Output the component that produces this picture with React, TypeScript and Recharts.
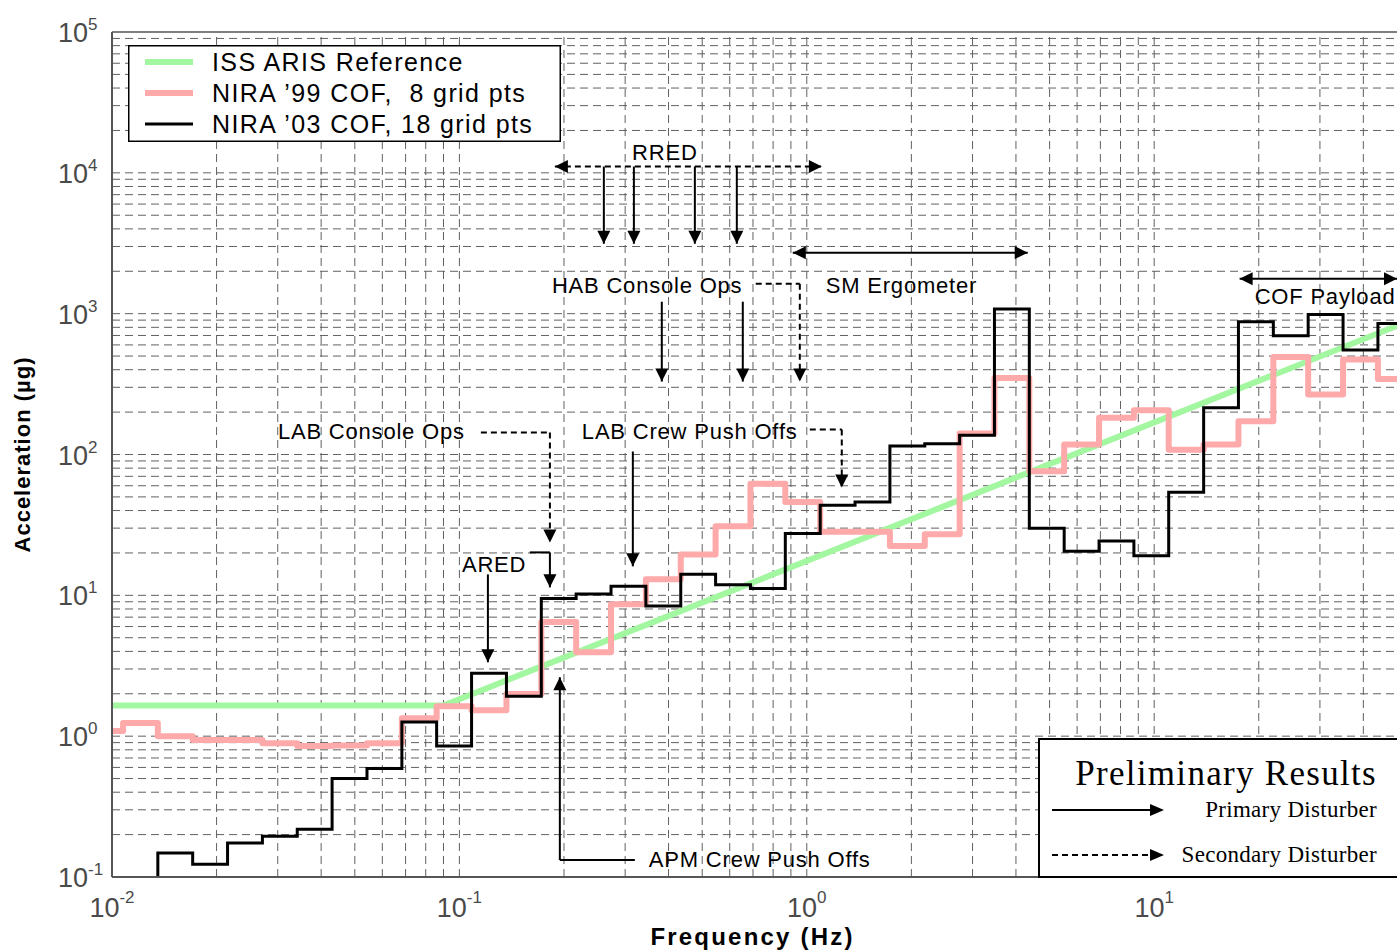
import React from 'react';
import { ComposedChart, Line, XAxis, YAxis, ReferenceLine, ReferenceDot, Legend, Label } from 'recharts';

// 1/3-octave band lower edges (Hz); first entry is the left end of the axis
const bandEdgesHz = [
  0.01, 0.01076, 0.01355, 0.01707, 0.02151, 0.0271, 0.03414, 0.04301, 0.0542, 0.0683,
  0.086, 0.1084, 0.1366, 0.1721, 0.2168, 0.2732, 0.3442, 0.4337, 0.5464, 0.6884,
  0.8673, 1.093, 1.377, 1.735, 2.186, 2.754, 3.469, 4.371, 5.507, 6.939,
  8.742, 11.01, 13.88, 17.48, 22.03, 27.75, 34.97, 44.06,
];
const fMax = 50;
const aMin = 0.1;

// NIRA '99 COF, 8 grid pts (µg), one value per band in bandEdgesHz
const nira99 = [
  1.09, 1.24, 1.0, 0.94, 0.94, 0.89, 0.85, 0.86, 0.89, 1.34,
  1.63, 1.53, 1.99, 6.47, 3.94, 8.63, 13.0, 19.5, 31, 62,
  46, 28.3, 28.3, 22.4, 27.1, 141, 350, 76, 118, 182,
  206, 108, 118, 172, 493, 267, 472, 344,
];

// NIRA '03 COF, 18 grid pts (µg), starts at the third edge
const nira03 = [
  0.148, 0.123, 0.174, 0.195, 0.218, 0.5, 0.59, 1.26, 0.85, 2.8,
  1.92, 9.5, 10.2, 11.6, 8.4, 14.1, 11.9, 11.2, 27.5, 43.7,
  46, 115, 119, 137, 1080, 30, 20.6, 24.3, 19.1, 54,
  215, 877, 697, 988, 551, 853,
];

// ISS ARIS reference (µg)
const arisHz = [0.01, 0.09, 50];
const arisVals = [1.65, 1.65, 820];

const xTicks = [0.01, 0.1, 1, 10];
const yTicks = [0.1, 1, 10, 100, 1000, 10000, 100000];

const xGrid: number[] = [];
[0.01, 0.1, 1, 10].forEach((d) => {
  for (let m = 1; m <= 9; m++) if (d * m < fMax && d * m > 0.01) xGrid.push(d * m);
});
const yGrid: number[] = [];
[0.1, 1, 10, 100, 1000, 10000].forEach((d) => {
  for (let m = 1; m <= 9; m++) if (d * m > 0.1) yGrid.push(d * m);
});

const arisData = arisHz.map((f, i) => ({ f, v: arisVals[i] }));
const data99 = bandEdgesHz
  .map((f, i) => ({ f, v: nira99[i] }))
  .concat([{ f: fMax, v: nira99[nira99.length - 1] }]);
const edges03 = bandEdgesHz.slice(2);
const data03 = [{ f: edges03[0], v: aMin }]
  .concat(edges03.map((f, i) => ({ f, v: nira03[i] })))
  .concat([{ f: fMax, v: nira03[nira03.length - 1] }]);

// annotation texts, in data coordinates (Hz, µg)
const notes = [
  { text: 'RRED', f: 0.3904, a: 14090, anchor: 'middle' },
  { text: 'HAB Console Ops', f: 0.1846, a: 1580, anchor: 'start' },
  { text: 'SM Ergometer', f: 1.134, a: 1580, anchor: 'start' },
  { text: 'COF Payload', f: 19.46, a: 1320, anchor: 'start' },
  { text: 'LAB Console Ops', f: 0.03004, a: 145.6, anchor: 'start' },
  { text: 'LAB Crew Push Offs', f: 0.2252, a: 145.6, anchor: 'start' },
  { text: 'ARED', f: 0.1017, a: 16.6, anchor: 'start' },
  { text: 'APM Crew Push Offs', f: 0.351, a: 0.134, anchor: 'start' },
];

// arrows: [f1, a1, f2, a2], head: 0 none, 1 end, 2 both
const arrows = [
  { p: [0.1883, 11090, 1.105, 11090], head: 2, dashed: true },
  { p: [0.2605, 11090, 0.2605, 3137], head: 1, dashed: false },
  { p: [0.3179, 11090, 0.3179, 3137], head: 1, dashed: false },
  { p: [0.4762, 11090, 0.4762, 3137], head: 1, dashed: false },
  { p: [0.6289, 11090, 0.6289, 3137], head: 1, dashed: false },
  { p: [0.9114, 2708, 4.325, 2708], head: 2, dashed: false },
  { p: [17.62, 1771, 50, 1771], head: 2, dashed: false },
  { p: [0.3825, 1216, 0.3825, 329.4], head: 1, dashed: false },
  { p: [0.6543, 1216, 0.6543, 329.4], head: 1, dashed: false },
  { p: [0.7129, 1633, 0.9548, 1633], head: 0, dashed: true },
  { p: [0.9548, 1633, 0.9548, 329.4], head: 1, dashed: true },
  { p: [0.1153, 143.2, 0.1822, 143.2], head: 0, dashed: true },
  { p: [0.1822, 143.2, 0.1822, 23.76], head: 1, dashed: true },
  { p: [1.02, 150.4, 1.261, 150.4], head: 0, dashed: true },
  { p: [1.261, 150.4, 1.261, 58.3], head: 1, dashed: true },
  { p: [0.3157, 105, 0.3157, 16.06], head: 1, dashed: false },
  { p: [0.1208, 14.09, 0.1208, 3.348], head: 1, dashed: false },
  { p: [0.1595, 20.18, 0.1822, 20.18], head: 0, dashed: false },
  { p: [0.1822, 20.18, 0.1822, 11.39], head: 1, dashed: false },
  { p: [0.3199, 0.132, 0.1946, 0.132], head: 0, dashed: false },
  { p: [0.1946, 0.132, 0.1946, 2.621], head: 1, dashed: false },
];

const sans = "'Liberation Sans', Arial, Helvetica, sans-serif";
const serif = "'Liberation Serif', 'Times New Roman', serif";
const tickColor = '#4a4a4a';
const gridColor = '#606060';

const head = (x: number, y: number, dx: number, dy: number) => {
  const len = Math.hypot(dx, dy) || 1;
  const ux = dx / len;
  const uy = dy / len;
  const L = 13;
  const W = 6.5;
  const bx = x - ux * L;
  const by = y - uy * L;
  return `${x},${y} ${bx - uy * W},${by + ux * W} ${bx + uy * W},${by - ux * W}`;
};

const Arrow = (props: any) => {
  const { x1, y1, x2, y2, headMode, dashed } = props;
  return (
    <g>
      <line x1={x1} y1={y1} x2={x2} y2={y2} stroke="#000" strokeWidth={2} strokeDasharray={dashed ? '6 4' : undefined} />
      {headMode >= 1 && <polygon points={head(x2, y2, x2 - x1, y2 - y1)} fill="#000" />}
      {headMode === 2 && <polygon points={head(x1, y1, x1 - x2, y1 - y2)} fill="#000" />}
    </g>
  );
};

const XTick = (props: any) => {
  const { x, y, payload } = props;
  const e = Math.round(Math.log10(payload.value));
  return (
    <text x={x} y={y + 40} textAnchor="middle" fill={tickColor} fontFamily={sans} fontSize={27}>
      10<tspan dy={-14} fontSize={17}>{e}</tspan>
    </text>
  );
};

const YTick = (props: any) => {
  const { x, y, payload } = props;
  const e = Math.round(Math.log10(payload.value));
  return (
    <text x={x - 54} y={y + 10} textAnchor="start" fill={tickColor} fontFamily={sans} fontSize={27}>
      10<tspan dy={-12} fontSize={17}>{e}</tspan>
    </text>
  );
};

const legendRows = [
  { name: 'ISS ARIS Reference', color: '#a3f7a0', w: 6 },
  { name: 'NIRA \u201999 COF,  8 grid pts', color: '#ffaaaa', w: 6 },
  { name: 'NIRA \u201903 COF, 18 grid pts', color: '#000000', w: 3 },
];

const renderLegend = () => (
  <svg width={433} height={97} style={{ display: 'block' }}>
    <rect x={0.75} y={0.75} width={431.5} height={95.5} fill="#fff" stroke="#000" strokeWidth={1.5} />
    {legendRows.map((r, i) => (
      <g key={r.name}>
        <line x1={17} x2={65} y1={17 + i * 31} y2={17 + i * 31} stroke={r.color} strokeWidth={r.w} />
        <text x={84} y={26 + i * 31} fontFamily={sans} fontSize={25} letterSpacing={1.4} fill="#000" style={{ whiteSpace: 'pre' }}>
          {r.name}
        </text>
      </g>
    ))}
  </svg>
);

export default function App() {
  return (
    <div style={{ position: 'absolute', left: 0, top: 0, width: 1397, height: 951, overflow: 'hidden', background: '#fff' }}>
      <ComposedChart width={1397} height={951} margin={{ top: 32, right: 0, left: 0, bottom: 0 }}>
        <XAxis
          dataKey="f"
          type="number"
          scale="log"
          domain={[0.01, fMax]}
          allowDataOverflow
          ticks={xTicks}
          interval={0}
          tick={<XTick />}
          tickLine={false}
          tickSize={0}
          tickMargin={0}
          height={74}
          axisLine={{ stroke: '#555', strokeWidth: 2 }}
        >
          <Label
            content={(p: any) => {
              const vb = p.viewBox;
              return (
                <text x={vb.x + vb.width / 2 - 2} y={vb.y + 68} textAnchor="middle" fontFamily={sans} fontWeight="bold" fontSize={24} letterSpacing={2.2} fill="#000">
                  Frequency (Hz)
                </text>
              );
            }}
          />
        </XAxis>
        <YAxis
          dataKey="v"
          type="number"
          scale="log"
          domain={[aMin, 100000]}
          allowDataOverflow
          ticks={yTicks}
          interval={0}
          tick={<YTick />}
          tickLine={false}
          tickSize={0}
          tickMargin={0}
          width={112}
          axisLine={{ stroke: '#555', strokeWidth: 2 }}
        >
          <Label
            content={(p: any) => {
              const vb = p.viewBox;
              const cx = vb.x + 22;
              const cy = vb.y + vb.height / 2;
              return (
                <text x={cx} y={cy} transform={`rotate(-90, ${cx}, ${cy})`} dy="0.35em" textAnchor="middle" fontFamily={sans} fontWeight="bold" fontSize={22} letterSpacing={1} fill="#000">
                  Acceleration (µg)
                </text>
              );
            }}
          />
        </YAxis>

        {xGrid.map((v) => (
          <ReferenceLine key={'gx' + v} x={v} stroke={gridColor} strokeWidth={1} strokeDasharray="8 5" />
        ))}
        {yGrid.map((v) => (
          <ReferenceLine key={'gy' + v} y={v} stroke={gridColor} strokeWidth={1} strokeDasharray="8 5" />
        ))}
        <ReferenceLine y={100000} stroke="#555" strokeWidth={1.5} />

        <Line data={arisData} dataKey="v" type="linear" stroke="#a3f7a0" strokeWidth={6} dot={false} isAnimationActive={false} />
        <Line data={data99} dataKey="v" type="stepAfter" stroke="#ffaaaa" strokeWidth={6} strokeLinejoin="round" dot={false} isAnimationActive={false} />
        <Line data={data03} dataKey="v" type="stepAfter" stroke="#000" strokeWidth={3} dot={false} isAnimationActive={false} />

        {arrows.map((ar, i) => (
          <ReferenceLine
            key={'ar' + i}
            segment={[{ x: ar.p[0], y: ar.p[1] }, { x: ar.p[2], y: ar.p[3] }]}
            ifOverflow="visible"
            shape={(sp: any) => <Arrow {...sp} headMode={ar.head} dashed={ar.dashed} />}
          />
        ))}
        {notes.map((n) => (
          <ReferenceDot
            key={n.text}
            x={n.f}
            y={n.a}
            r={0}
            ifOverflow="visible"
            shape={(sp: any) => (
              <text x={sp.cx} y={sp.cy} dy="0.35em" textAnchor={n.anchor as any} fontFamily={sans} fontSize={22} letterSpacing={0.8} fill="#000">
                {n.text}
              </text>
            )}
          />
        ))}

        <Legend
          layout="horizontal"
          verticalAlign="middle"
          align="center"
          content={renderLegend}
          wrapperStyle={{ left: 128, top: 45, width: 433, height: 97, lineHeight: 0 }}
        />
      </ComposedChart>

      <div style={{ position: 'absolute', left: 1038, top: 738, width: 359, height: 140 }}>
        <svg width={359} height={140} style={{ display: 'block' }}>
          <rect x={1} y={1} width={380} height={138} fill="#fff" stroke="#000" strokeWidth={2} />
          <text x={339} y={47} textAnchor="end" fontFamily={serif} fontSize={35} letterSpacing={1.3} fill="#000">
            Preliminary Results
          </text>
          <text x={339} y={79} textAnchor="end" fontFamily={serif} fontSize={23} letterSpacing={0.3} fill="#000">
            Primary Disturber
          </text>
          <text x={339} y={124} textAnchor="end" fontFamily={serif} fontSize={23} letterSpacing={0.3} fill="#000">
            Secondary Disturber
          </text>
          <line x1={14} y1={72} x2={114} y2={72} stroke="#000" strokeWidth={2} />
          <polygon points="112,66 126,72 112,78" fill="#000" />
          <line x1={14} y1={117} x2={114} y2={117} stroke="#000" strokeWidth={2} strokeDasharray="6 4" />
          <polygon points="112,111 126,117 112,123" fill="#000" />
        </svg>
      </div>
    </div>
  );
}
